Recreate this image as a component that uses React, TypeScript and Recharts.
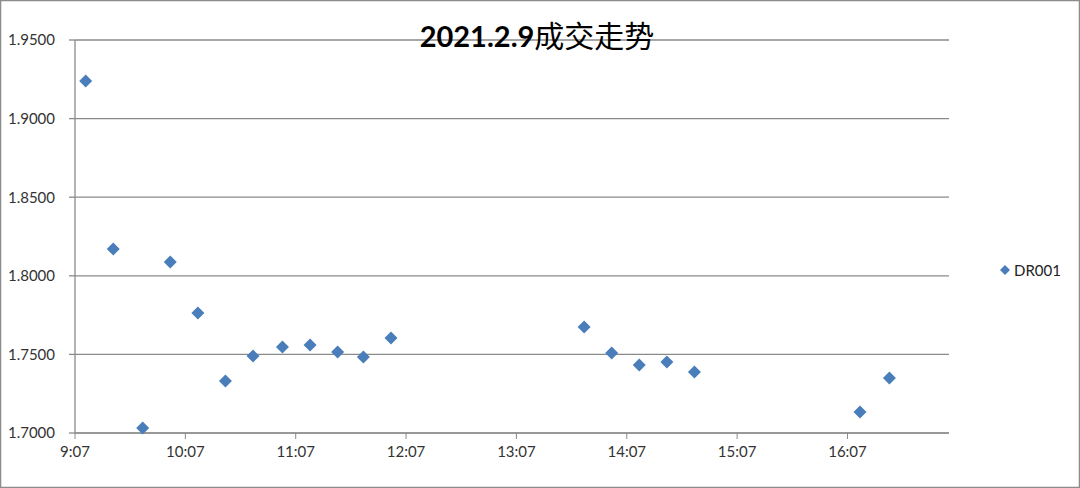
import { ScatterChart, Scatter, XAxis, YAxis, CartesianGrid, Legend } from 'recharts'

// trade times (h:mm) and DR001 rates
const times = [
  '9:13', '9:28', '9:44', '9:59', '10:14', '10:29', '10:44', '11:00', '11:15', '11:30',
  '11:44', '11:59', '13:44', '13:59', '14:14', '14:29', '14:44', '16:14', '16:30',
]
const rates = [
  1.9239, 1.817, 1.7032, 1.8088, 1.7763, 1.7331, 1.749, 1.7547, 1.756, 1.7515,
  1.7483, 1.7604, 1.7674, 1.7509, 1.7433, 1.7452, 1.7388, 1.7134, 1.735,
]
const seriesName = 'DR001'
const title = '2021.2.9'
const titleCn = '成交走势'

// excel axis: min 0.38 day, max 0.71 day, major unit 1 hour (in minutes)
const xMin = 0.38 * 1440
const xMax = 0.71 * 1440
const xTicks = [0, 1, 2, 3, 4, 5, 6, 7].map((h) => xMin + h * 60)
const yTicks = [1.7, 1.75, 1.8, 1.85, 1.9, 1.95]

const BLUE = '#4a7ebb'
const GRID = '#8a8a8a'
const FONT = 'Lato, "Liberation Sans", sans-serif'

const toMinutes = (t: string) => {
  const [h, m] = t.split(':').map(Number)
  return h * 60 + m
}

const data = times.map((t, i) => ({ x: toMinutes(t), y: rates[i] }))

const fmtTime = (v: number) => {
  const h = Math.floor(v / 60)
  const m = Math.floor(v - h * 60)
  return `${h}:${String(m).padStart(2, '0')}`
}

function Diamond(props: any) {
  const { cx, cy } = props
  const r = 6.5
  return (
    <polygon
      points={`${cx},${cy - r} ${cx + r},${cy} ${cx},${cy + r} ${cx - r},${cy}`}
      fill={BLUE}
    />
  )
}

function LegendBox() {
  return (
    <div style={{ display: 'flex', alignItems: 'center', fontFamily: FONT, fontSize: 15, color: '#222' }}>
      <svg width={12} height={12} style={{ marginRight: 3 }}>
        <polygon points="6,1 11,6 6,11 1,6" fill={BLUE} />
      </svg>
      {seriesName}
    </div>
  )
}

export default function App() {
  return (
    <div style={{ position: 'absolute', left: 0, top: 0, width: 1080, height: 488, background: '#fff' }}>
      <ScatterChart width={1080} height={488} margin={{ top: 40, right: 51, left: 0, bottom: 25 }}>
        <CartesianGrid vertical={false} stroke={GRID} strokeWidth={1.3} />
        <XAxis
          type="number"
          dataKey="x"
          domain={[xMin, xMax]}
          ticks={xTicks}
          tickFormatter={fmtTime}
          allowDataOverflow
          height={30}
          tickSize={6}
          tickMargin={7}
          stroke={GRID}
          tick={{ fontSize: 15, fill: '#333', fontFamily: FONT }}
        />
        <YAxis
          type="number"
          dataKey="y"
          domain={[1.7, 1.95]}
          ticks={yTicks}
          tickFormatter={(v: number) => v.toFixed(4)}
          width={75}
          tickSize={6}
          tickMargin={14}
          stroke={GRID}
          strokeWidth={1.3}
          tick={{ fontSize: 15, fill: '#333', fontFamily: FONT }}
        />
        <Legend
          layout="vertical"
          verticalAlign="middle"
          align="right"
          content={() => <LegendBox />}
          wrapperStyle={{ left: 999, top: 261, width: 80 }}
        />
        <Scatter name={seriesName} data={data} shape={<Diamond />} isAnimationActive={false} />
      </ScatterChart>
      <svg width={1080} height={488} style={{ position: 'absolute', left: 0, top: 0, pointerEvents: 'none' }}>
        <text x={537} y={47} textAnchor="middle" fill="#000">
          <tspan fontFamily={FONT} fontWeight="bold" fontSize={29}>{title}</tspan>
          <tspan fontFamily='"Noto Sans CJK SC", sans-serif' fontSize={30}>{titleCn}</tspan>
        </text>
        <rect x={0.5} y={0.5} width={1079} height={487} fill="none" stroke="#8c8c8c" strokeWidth={1.5} />
      </svg>
    </div>
  )
}
